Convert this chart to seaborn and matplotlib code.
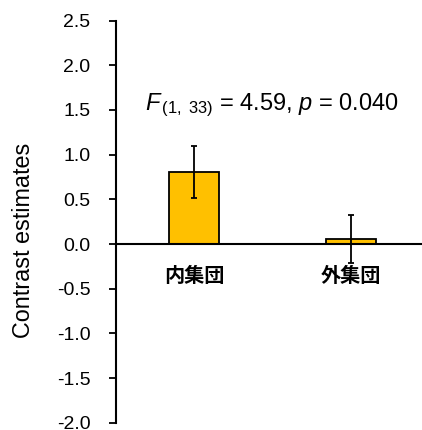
import matplotlib
matplotlib.use("Agg")
import matplotlib.pyplot as plt
import seaborn as sns
import pandas as pd

# Contrast estimates per group with error half-widths
groups = ["内集団", "外集団"]
estimates = [0.81, 0.06]
errors = [0.29, 0.27]
y_ticks = [-2.0, -1.5, -1.0, -0.5, 0.0, 0.5, 1.0, 1.5, 2.0, 2.5]
stat_label = r"$\mathit{F}_{\,\mathrm{(1,\ 33)}}$ = 4.59, $\mathit{p}$ = 0.040"

sns.set_style("ticks")
plt.rcParams["font.family"] = ["Liberation Sans", "Noto Sans CJK JP"]
plt.rcParams["mathtext.fontset"] = "custom"
plt.rcParams["mathtext.rm"] = "Liberation Sans"
plt.rcParams["mathtext.it"] = "Liberation Sans:italic"
plt.rcParams["text.color"] = "black"
plt.rcParams["axes.labelcolor"] = "black"

df = pd.DataFrame({"group": groups, "estimate": estimates})

fig = plt.figure(figsize=(4.22, 4.30), dpi=100)
ax = fig.add_axes([0.2737, 0.017, 0.726, 0.935])

sns.barplot(data=df, x="group", y="estimate", color="#FFC000",
            saturation=1, width=0.317, edgecolor="black", linewidth=1.3,
            errorbar=None, ax=ax)
ax.errorbar(range(len(groups)), estimates, yerr=errors, fmt="none",
            ecolor="black", elinewidth=1.3, capsize=2.5, capthick=1.3, zorder=5)

ax.set_xlim(-0.5, 1.45)
ax.set_ylim(-2.0, 2.5)
ax.set_yticks(y_ticks)
ax.set_yticklabels([f"{v:.1f}" for v in y_ticks])
ax.set_xlabel("")
ax.set_ylabel("Contrast estimates", fontsize=16.8, color="black")
ax.yaxis.set_label_coords(-0.262, 0.4545)

ax.spines["top"].set_visible(False)
ax.spines["right"].set_visible(False)
ax.spines["bottom"].set_position(("data", 0))
for s in ("left", "bottom"):
    ax.spines[s].set_linewidth(1.5)
    ax.spines[s].set_color("black")

ax.tick_params(axis="y", direction="out", length=5, width=1.3,
               labelsize=14, colors="black", labelcolor="black", pad=13)
ax.tick_params(axis="x", length=0, pad=15, labelcolor="black")
for lbl in ax.get_xticklabels():
    lbl.set_fontfamily(["Noto Sans CJK JP"])
    lbl.set_fontweight("bold")
    lbl.set_fontsize(14.5)

ax.text(-0.311, 1.50, stat_label, fontsize=17, ha="left", va="baseline",
        color="black")

fig.savefig("out.png", dpi=100)
